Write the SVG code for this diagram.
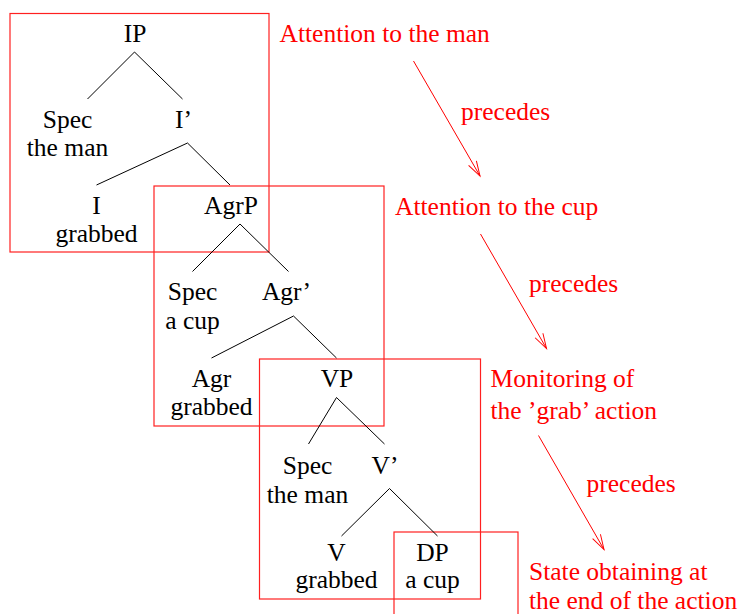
<svg xmlns="http://www.w3.org/2000/svg" width="738" height="614" viewBox="0 0 738 614">
  <style>
    text { font-family: "Liberation Serif", "Times New Roman", serif; font-size: 25.5px; }
    .node { fill: #000; text-anchor: middle; }
    .note { fill: #ff0000; }
    .edge { stroke: #000; stroke-width: 1; fill: none; }
    .frame { stroke: #ff2020; stroke-width: 1.2; fill: none; }
    .seq { stroke: #ff0000; stroke-width: 1; fill: none; }
  </style>
  <defs>
    <marker id="open-arrow" viewBox="-16 -6 18 12" refX="0" refY="0" markerWidth="18" markerHeight="12" markerUnits="userSpaceOnUse" orient="auto">
      <path d="M-15,-4.5 L0,0 L-15,4.5" fill="none" stroke="#ff0000" stroke-width="1"/>
    </marker>
  </defs>
  <rect width="738" height="614" fill="#fff"/>

  <!-- attention frames -->
  <g id="frames">
    <rect class="frame" x="10" y="13.5" width="259" height="238.5"/>
    <rect class="frame" x="154" y="186" width="230" height="240"/>
    <rect class="frame" x="259.5" y="359" width="221" height="240"/>
    <rect class="frame" x="394" y="532" width="124" height="90"/>
  </g>

  <!-- tree edges and sequence arrows -->
  <g id="connectors">
    <line class="edge" x1="134.5" y1="52" x2="87.5" y2="99"/>
    <line class="edge" x1="134.5" y1="52" x2="182.5" y2="99"/>
    <line class="edge" x1="187.5" y1="143" x2="96.5" y2="185"/>
    <line class="edge" x1="187.5" y1="143" x2="230" y2="185"/>
    <line class="edge" x1="240" y1="224" x2="192.5" y2="271.5"/>
    <line class="edge" x1="240" y1="224" x2="288.5" y2="271.5"/>
    <line class="edge" x1="293.5" y1="316" x2="211.5" y2="358"/>
    <line class="edge" x1="293.5" y1="316" x2="336.5" y2="358"/>
    <line class="edge" x1="336.5" y1="397.5" x2="308.5" y2="444"/>
    <line class="edge" x1="336.5" y1="397.5" x2="384.5" y2="444"/>
    <line class="edge" x1="389.5" y1="488.5" x2="341.5" y2="536"/>
    <line class="edge" x1="389.5" y1="488.5" x2="437.5" y2="536"/>

    <line class="seq" x1="413.5" y1="61" x2="480" y2="176" marker-end="url(#open-arrow)"/>
    <line class="seq" x1="480.5" y1="234" x2="546.5" y2="348.5" marker-end="url(#open-arrow)"/>
    <line class="seq" x1="538.5" y1="435.5" x2="604" y2="549.5" marker-end="url(#open-arrow)"/>
  </g>

  <!-- tree nodes -->
  <g id="node-ip"><text class="node" x="135" y="42">IP</text></g>
  <g id="node-spec-ip"><text class="node" x="67.5" y="128">Spec</text><text class="node" x="67.5" y="156">the man</text></g>
  <g id="node-ibar"><text class="node" x="183.5" y="128">I’</text></g>
  <g id="node-i"><text class="node" x="96.5" y="214">I</text><text class="node" x="96.5" y="242">grabbed</text></g>
  <g id="node-agrp"><text class="node" x="231" y="214">AgrP</text></g>
  <g id="node-spec-agrp"><text class="node" x="192.5" y="300">Spec</text><text class="node" x="192.5" y="328.5">a cup</text></g>
  <g id="node-agrbar"><text class="node" x="286.5" y="300">Agr’</text></g>
  <g id="node-agr"><text class="node" x="211.5" y="387">Agr</text><text class="node" x="211.5" y="415">grabbed</text></g>
  <g id="node-vp"><text class="node" x="337" y="387">VP</text></g>
  <g id="node-spec-vp"><text class="node" x="307.5" y="474">Spec</text><text class="node" x="307.5" y="502.5">the man</text></g>
  <g id="node-vbar"><text class="node" x="385" y="474">V’</text></g>
  <g id="node-v"><text class="node" x="336.5" y="561">V</text><text class="node" x="336.5" y="588">grabbed</text></g>
  <g id="node-dp"><text class="node" x="432.5" y="561">DP</text><text class="node" x="432.5" y="588">a cup</text></g>

  <!-- attention sequence labels -->
  <g id="label-man"><text class="note" x="279.5" y="42">Attention to the man</text></g>
  <g id="label-cup"><text class="note" x="395" y="215">Attention to the cup</text></g>
  <g id="label-grab"><text class="note" x="490.5" y="387">Monitoring of</text><text class="note" x="490.5" y="419">the ’grab’ action</text></g>
  <g id="label-end"><text class="note" x="529" y="580">State obtaining at</text><text class="note" x="529" y="609">the end of the action</text></g>
  <g id="precedes-1"><text class="note" x="461" y="120">precedes</text></g>
  <g id="precedes-2"><text class="note" x="529" y="291.5">precedes</text></g>
  <g id="precedes-3"><text class="note" x="586.5" y="491.5">precedes</text></g>
</svg>
